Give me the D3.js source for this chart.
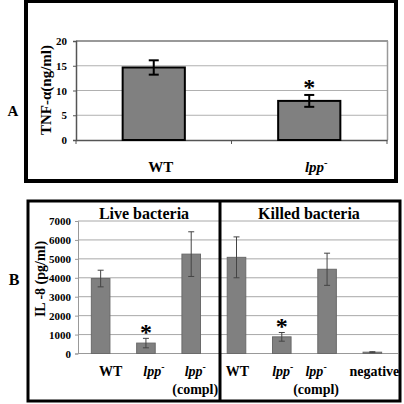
<!DOCTYPE html>
<html><head><meta charset="utf-8">
<script src="https://cdn.jsdelivr.net/npm/d3@7"></script>
<style>
html,body{margin:0;padding:0;background:#fff;}
svg text{font-family:"Liberation Serif","Times New Roman",serif;font-weight:bold;fill:#000;}
</style></head>
<body><svg id="c" width="404" height="404"></svg>
<script>
// Panel A data
const catsA = ["WT", "lpp"];
const valsA = [14.65, 7.9];
const errA = [1.45, 1.2];
const ticksA = [0, 5, 10, 15, 20];
const sigA = [false, true];
// Panel B data
const catsB = ["WT", "lpp", "lpp (compl)", "WT", "lpp", "lpp (compl)", "negative"];
const valsB = [3960, 550, 5250, 5080, 880, 4450, 70];
const errB = [440, 250, 1180, 1080, 230, 850, 25];
const sigB = [false, true, false, false, true, false, false];
const ticksB = [0, 1000, 2000, 3000, 4000, 5000, 6000, 7000];
const groupsB = ["Live bacteria", "Killed bacteria"];

const svg = d3.select("#c");

function writeLabel(g, label, x, y, size) {
  const parts = label.split(" ");
  const main = parts[0];
  const t = g.append("text").attr("x", x).attr("y", y).attr("text-anchor", "middle").attr("font-size", size);
  if (main === "lpp") {
    t.append("tspan").attr("font-style", "italic").text("lpp");
    t.append("tspan").attr("font-size", size * 0.7).attr("dy", -size * 0.4).text("-");
  } else {
    t.text(main);
  }
  if (parts.length > 1) {
    g.append("text").attr("x", x).attr("y", y + size * 1.25).attr("text-anchor", "middle")
      .attr("font-size", size).text(parts.slice(1).join(" "));
  }
}

// ---------- Panel A ----------
svg.append("rect").attr("x", 26).attr("y", 1).attr("width", 370).attr("height", 180)
  .attr("fill", "none").attr("stroke", "#000").attr("stroke-width", 4);

const xA = d3.scaleBand().domain(catsA).range([76, 387]).paddingInner(0.6).paddingOuter(0.3);
const xAc = d3.scaleBand().domain(catsA).range([76, 387]);
const yA = d3.scaleLinear().domain([0, 20]).range([140, 41]);

const gA = svg.append("g");
gA.selectAll("line.grid").data(ticksA.slice(1)).join("line")
  .attr("x1", 76).attr("x2", 387).attr("y1", d => yA(d)).attr("y2", d => yA(d))
  .attr("stroke", "#b0b0b0").attr("stroke-width", 1);
gA.append("line").attr("x1", 76).attr("x2", 388).attr("y1", yA(20)).attr("y2", yA(20)).attr("stroke", "#999").attr("stroke-width", 2);
gA.append("line").attr("x1", 387.5).attr("x2", 387.5).attr("y1", yA(20)).attr("y2", yA(0)).attr("stroke", "#999").attr("stroke-width", 1.5);

const axA = gA.append("g").attr("transform", "translate(76,0)")
  .call(d3.axisLeft(yA).tickValues(ticksA).tickSize(3).tickPadding(6).tickFormat(d3.format("d")));
axA.select(".domain").attr("stroke", "#555").attr("stroke-width", 1.5);
axA.selectAll(".tick line").attr("stroke", "#555");
axA.selectAll(".tick text").style("font-size", "11px").style("font-family", "'Liberation Serif', serif").style("font-weight", "bold").style("fill", "#000");

const axAb = gA.append("g").attr("transform", "translate(0,140)")
  .call(d3.axisBottom(xAc).tickSize(0).tickFormat(""));
axAb.select(".domain").attr("stroke", "#555").attr("stroke-width", 1.5);
[76, 231.5, 387].forEach(x => gA.append("line").attr("x1", x).attr("x2", x).attr("y1", 140).attr("y2", 144).attr("stroke", "#555"));

gA.selectAll("rect.bar").data(catsA).join("rect")
  .attr("x", d => xA(d)).attr("width", xA.bandwidth())
  .attr("y", (d, i) => yA(valsA[i])).attr("height", (d, i) => yA(0) - yA(valsA[i]))
  .attr("fill", "#808080").attr("stroke", "#000").attr("stroke-width", 2);

catsA.forEach((c, i) => {
  const cx = xA(c) + xA.bandwidth() / 2;
  const t = yA(valsA[i] + errA[i]), b = yA(valsA[i] - errA[i]);
  gA.append("line").attr("x1", cx).attr("x2", cx).attr("y1", t).attr("y2", b).attr("stroke", "#000").attr("stroke-width", 2);
  [t, b].forEach(y => gA.append("line").attr("x1", cx - 5).attr("x2", cx + 5).attr("y1", y).attr("y2", y).attr("stroke", "#000").attr("stroke-width", 2));
  if (sigA[i]) gA.append("text").attr("x", cx).attr("y", t).attr("text-anchor", "middle").attr("font-size", 24).text("*");
  writeLabel(gA, c, cx + 7, 172, 15);
});

gA.append("text").attr("transform", "translate(51,90) rotate(-90)").attr("text-anchor", "middle")
  .attr("font-size", 15).text("TNF-α(ng/ml)");
gA.append("text").attr("x", 13).attr("y", 116).attr("text-anchor", "middle").attr("font-size", 15).text("A");

// ---------- Panel B ----------
svg.append("rect").attr("x", 28).attr("y", 201).attr("width", 372).attr("height", 200)
  .attr("fill", "none").attr("stroke", "#000").attr("stroke-width", 3);

const idxB = catsB.map((d, i) => i);
const xB = d3.scaleBand().domain(idxB).range([78, 395]).paddingInner(0.59).paddingOuter(0.295);
const xBc = d3.scaleBand().domain(idxB).range([78, 395]);
const yB = d3.scaleLinear().domain([0, 7000]).range([353.5, 221]);

const gB = svg.append("g");
gB.selectAll("line.grid").data(ticksB.slice(1)).join("line")
  .attr("x1", 78).attr("x2", 398).attr("y1", d => yB(d)).attr("y2", d => yB(d))
  .attr("stroke", "#a8a8a8").attr("stroke-width", 1);

const axB = gB.append("g").attr("transform", "translate(78,0)")
  .call(d3.axisLeft(yB).tickValues(ticksB).tickSize(3).tickPadding(4).tickFormat(d3.format("d")));
axB.select(".domain").attr("stroke", "#999");
axB.selectAll(".tick line").attr("stroke", "#999");
axB.selectAll(".tick text").style("font-size", "11px").style("font-family", "'Liberation Serif', serif").style("font-weight", "bold").style("fill", "#000");
gB.append("line").attr("x1", 78).attr("x2", 398).attr("y1", yB(0)).attr("y2", yB(0)).attr("stroke", "#999");

idxB.forEach(i => {
  const x = xB(i), w = xB.bandwidth(), cx = x + w / 2;
  gB.append("rect").attr("x", x).attr("width", w).attr("y", yB(valsB[i])).attr("height", yB(0) - yB(valsB[i]))
    .attr("fill", "#808080").attr("stroke", "#6a6a6a").attr("stroke-width", 1);
  const t = yB(valsB[i] + errB[i]), b = yB(valsB[i] - errB[i]);
  gB.append("line").attr("x1", cx).attr("x2", cx).attr("y1", t).attr("y2", b).attr("stroke", "#444").attr("stroke-width", 1);
  [t, b].forEach(y => gB.append("line").attr("x1", cx - 3).attr("x2", cx + 3).attr("y1", y).attr("y2", y).attr("stroke", "#444").attr("stroke-width", 1));
  if (sigB[i]) gB.append("text").attr("x", cx).attr("y", t + 2).attr("text-anchor", "middle").attr("font-size", 24).text("*");
});

const labDx = [10, 8, 4, 1, 1, -11, 2];
idxB.forEach(i => {
  const cx = xBc(i) + xBc.bandwidth() / 2 + labDx[i];
  writeLabel(gB, catsB[i], cx, 376, 14);
});

gB.append("line").attr("x1", 220).attr("x2", 220).attr("y1", 201).attr("y2", 401).attr("stroke", "#000").attr("stroke-width", 3);

const groupCx = [144, 309];
groupsB.forEach((g, i) => gB.append("text").attr("x", groupCx[i]).attr("y", 219).attr("text-anchor", "middle").attr("font-size", 16).text(g));

gB.append("text").attr("transform", "translate(45,279) rotate(-90)").attr("text-anchor", "middle")
  .attr("font-size", 14).text("IL -8 (pg/ml)");
gB.append("text").attr("x", 14).attr("y", 285).attr("text-anchor", "middle").attr("font-size", 16).text("B");
</script></body></html>
